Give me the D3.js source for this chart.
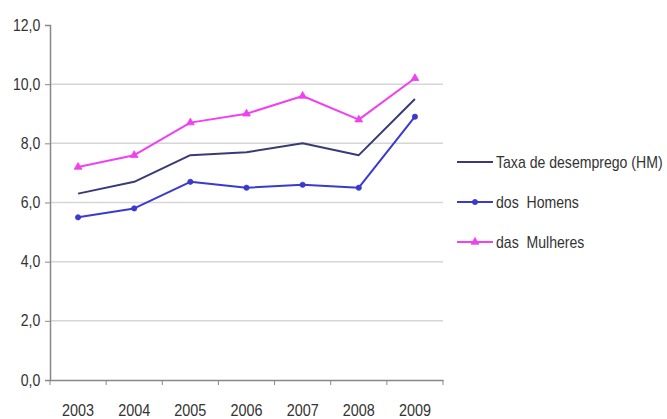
<!DOCTYPE html>
<html>
<head>
<meta charset="utf-8">
<script src="https://cdn.jsdelivr.net/npm/d3@7"></script>
<style>
  html, body { margin: 0; padding: 0; background: #fff; }
  svg { display: block; }
  text { font-family: "Liberation Sans", Arial, sans-serif; fill: #333; }
</style>
</head>
<body>
<svg id="chart" width="667" height="419"></svg>
<script>
// Taxa de desemprego (%), 2003–2009
const years = ["2003", "2004", "2005", "2006", "2007", "2008", "2009"];
const taxaHM = [6.3, 6.7, 7.6, 7.7, 8.0, 7.6, 9.5];
const homens = [5.5, 5.8, 6.7, 6.5, 6.6, 6.5, 8.9];
const mulheres = [7.2, 7.6, 8.7, 9.0, 9.6, 8.8, 10.2];
const yTicks = [0, 2, 4, 6, 8, 10, 12];
const seriesNames = ["Taxa de desemprego (HM)", "dos  Homens", "das  Mulheres"];

const series = [
  { name: seriesNames[0], values: taxaHM, color: "#3a3a76", marker: null },
  { name: seriesNames[1], values: homens, color: "#3a3ad0", marker: "circle" },
  { name: seriesNames[2], values: mulheres, color: "#f040f0", marker: "triangle" }
];

const svg = d3.select("#chart");
const plot = { left: 50, right: 443, top: 25, bottom: 380 };
const squeeze = 0.88;   // narrow lettering

const x = d3.scaleBand().domain(years).range([plot.left, plot.right]);
const y = d3.scaleLinear().domain([0, 12]).range([plot.bottom, plot.top]);

// grid lines
svg.append("g")
  .selectAll("line")
  .data(yTicks.filter(d => d > 0 && d < 12))
  .join("line")
  .attr("x1", plot.left).attr("x2", plot.right)
  .attr("y1", d => y(d)).attr("y2", d => y(d))
  .attr("stroke", "#d6d6d6").attr("stroke-width", 1.5);

// y axis
const yAxis = svg.append("g")
  .attr("transform", `translate(${plot.left},0)`)
  .call(d3.axisLeft(y).tickValues(yTicks).tickSize(5).tickPadding(6)
    .tickFormat(d => d3.format(".1f")(d).replace(".", ",")));
yAxis.select(".domain").attr("stroke", "#888").attr("stroke-width", 1.5);
yAxis.selectAll(".tick line").attr("stroke", "#888");
yAxis.selectAll("text").attr("font-size", 16).style("fill", "#333")
  .attr("transform", `scale(${squeeze},1)`);

// x axis with ticks on the band boundaries
const xAxis = svg.append("g")
  .attr("transform", `translate(0,${plot.bottom})`)
  .call(d3.axisBottom(x).tickSize(0).tickPadding(25));
xAxis.select(".domain").attr("stroke", "#888").attr("stroke-width", 1.5);
xAxis.selectAll("text").attr("font-size", 16).style("fill", "#333")
  .attr("transform", `scale(0.9,1)`);
xAxis.selectAll(".bound")
  .data(years.map(d => x(d)).concat([plot.right]))
  .join("line")
  .attr("class", "bound")
  .attr("x1", d => d).attr("x2", d => d)
  .attr("y1", 0).attr("y2", 5)
  .attr("stroke", "#888");

const line = d3.line()
  .x((d, i) => x(years[i]) + x.bandwidth() / 2)
  .y(d => y(d));

const tri = d3.symbol().type(d3.symbolTriangle).size(26);

function drawMarker(g, type, color, cx, cy) {
  if (type === "circle") {
    g.append("circle").attr("cx", cx).attr("cy", cy).attr("r", 2.6)
      .attr("fill", color).attr("stroke", color).attr("stroke-width", 0.8);
  } else if (type === "triangle") {
    g.append("path").attr("d", tri())
      .attr("transform", `translate(${cx},${cy})`)
      .attr("fill", color).attr("stroke", color).attr("stroke-width", 0.8);
  }
}

series.forEach(s => {
  const g = svg.append("g");
  g.append("path")
    .datum(s.values)
    .attr("d", line)
    .attr("fill", "none")
    .attr("stroke", s.color)
    .attr("stroke-width", 2)
    .attr("stroke-linejoin", "round");
  if (s.marker) {
    s.values.forEach((v, i) => drawMarker(g, s.marker, s.color,
      x(years[i]) + x.bandwidth() / 2, y(v)));
  }
});

// legend
const legend = svg.append("g");
series.forEach((s, i) => {
  const ly = 162 + i * 40;
  const row = legend.append("g");
  row.append("line")
    .attr("x1", 457).attr("x2", 493)
    .attr("y1", ly).attr("y2", ly)
    .attr("stroke", s.color).attr("stroke-width", 2);
  if (s.marker) drawMarker(row, s.marker, s.color, 475, ly);
  row.append("text")
    .attr("transform", `translate(496,${ly + 5.5}) scale(${squeeze},1)`)
    .attr("font-size", 16)
    .style("white-space", "pre")
    .text(s.name);
});
</script>
</body>
</html>
